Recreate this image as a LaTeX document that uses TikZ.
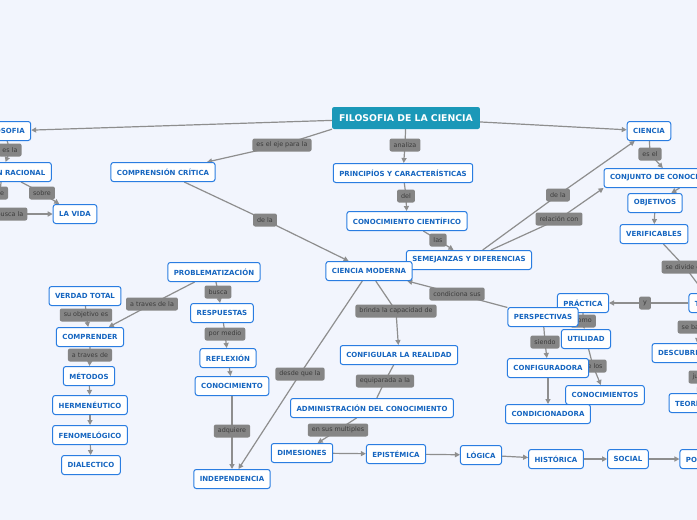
\documentclass[tikz,border=0pt]{standalone}
\usepackage{fontspec}
\setmainfont{DejaVu Sans}
\usetikzlibrary{arrows.meta}
\definecolor{bgc}{HTML}{F2F5FD}
\definecolor{bord}{HTML}{2A7DE1}
\definecolor{txt}{HTML}{1565C0}
\definecolor{root}{HTML}{1B98B8}
\definecolor{lab}{HTML}{858585}
\definecolor{labt}{HTML}{3C3C3C}
\definecolor{edg}{HTML}{8E8E8E}
\pgfdeclarelayer{bgfill}\pgfdeclarelayer{bg}\pgfdeclarelayer{labs}
\pgfsetlayers{bgfill,bg,labs,main}
\begin{document}
\begin{tikzpicture}[x=1pt,y=-1pt,
 box/.style={draw=bord,fill=white,rounded corners=2.5pt,line width=1pt,text=txt,font=\bfseries\fontsize{7}{8}\selectfont,inner xsep=6pt,minimum height=19pt},
 rootbox/.style={fill=root,rounded corners=2pt,text=white,font=\bfseries\fontsize{9.3}{10}\selectfont,inner xsep=7pt,minimum height=22pt},
 lbl/.style={fill=lab,rounded corners=2pt,text=labt,font=\fontsize{6.4}{7}\selectfont,inner xsep=4pt,minimum height=13pt},
 ed/.style={draw=edg,line width=1.2pt,-{Triangle[length=5pt,width=5pt]}},
 pl/.style={draw=edg,line width=1.2pt}]
\begin{pgfonlayer}{bgfill}
\fill[bgc] (0,0) rectangle (697,520);
\end{pgfonlayer}
\useasboundingbox (0,0) rectangle (697,520);
% nodes
\node[rootbox] (fdc) at (406,118) {FILOSOFIA DE LA CIENCIA};
\node[box] (fil) at (4,131) {FILOSOFIA};
\node[box] (rac) at (2,172) {REFLEXIÓN RACIONAL};
\node[box] (vida) at (75,214) {LA VIDA};
\node[box] (comp) at (163,172) {COMPRENSIÓN CRÍTICA};
\node[box] (prin) at (403,173) {PRINCIPÍOS Y CARACTERÍSTICAS};
\node[box] (cc) at (407,221) {CONOCIMIENTO CIENTÍFICO};
\node[box] (sem) at (469,260) {SEMEJANZAS Y DIFERENCIAS};
\node[box] (cm) at (369,271) {CIENCIA MODERNA};
\node[box] (cie) at (649,131) {CIENCIA};
\node[box] (conj) at (672,178) {CONJUNTO DE CONOCIMIENTOS};
\node[box] (obj) at (655,203) {OBJETIVOS};
\node[box] (ver) at (654,234) {VERIFICABLES};
\node[box] (teo) at (712,303) {TEÓRICA};
\node[box] (desc) at (696,353) {DESCUBRIMIENTOS};
\node[box] (teos) at (692,403) {TEORÍAS};
\node[box] (prac) at (583,303) {PRÁCTICA};
\node[box] (util) at (586,339) {UTILIDAD};
\node[box] (cons) at (605,395) {CONOCIMIENTOS};
\node[box] (pers) at (543,317) {PERSPECTIVAS};
\node[box] (conf) at (548,368) {CONFIGURADORA};
\node[box] (cond) at (548,414) {CONDICIONADORA};
\node[box] (prob) at (214,272) {PROBLEMATIZACIÓN};
\node[box] (verd) at (85,296) {VERDAD TOTAL};
\node[box] (compr) at (90,337) {COMPRENDER};
\node[box] (met) at (89,376) {MÉTODOS};
\node[box] (her) at (90,405) {HERMENÉUTICO};
\node[box] (fen) at (90,435) {FENOMELÓGICO};
\node[box] (dia) at (91,465) {DIALECTICO};
\node[box] (resp) at (222,313) {RESPUESTAS};
\node[box] (refl) at (228,358) {REFLEXIÓN};
\node[box] (cono) at (232,386) {CONOCIMIENTO};
\node[box] (ind) at (232,479) {INDEPENDENCIA};
\node[box] (real) at (399,355) {CONFIGULAR LA REALIDAD};
\node[box] (adm) at (372,408) {ADMINISTRACIÓN DEL CONOCIMIENTO};
\node[box] (dim) at (302,453) {DIMESIONES};
\node[box] (epi) at (396,454) {EPISTÉMICA};
\node[box] (log) at (481,455) {LÓGICA};
\node[box] (his) at (556,459) {HISTÓRICA};
\node[box] (soc) at (628,459) {SOCIAL};
\node[box] (pol) at (704,459) {POLÍTICA};
% labels
\begin{pgfonlayer}{labs}
\node[lbl] (l1) at (10,150) {es la};
\node[lbl] (l2) at (0,193) {de};
\node[lbl] (l3) at (42,193) {sobre};
\node[lbl] (l4) at (10,214) {busca la};
\node[lbl] (l5) at (282,145) {es el eje para la};
\node[lbl] (l6) at (405,145) {analiza};
\node[lbl] (l7) at (406,196) {del};
\node[lbl] (l8) at (438,240) {las};
\node[lbl] (l9) at (265,220) {de la};
\node[lbl] (l10) at (558,195) {de la};
\node[lbl] (l11) at (559,219) {relación con};
\node[lbl] (l12) at (650,154) {es el};
\node[lbl] (l13) at (685,267) {se divide en};
\node[lbl] (l14) at (645,303) {y};
\node[lbl] (l15) at (699,327) {se basa en};
\node[lbl] (l16) at (705,377) {justifica};
\node[lbl] (l17) at (457,294) {condiciona sus};
\node[lbl] (l18) at (396,311) {brinda la capacidad de};
\node[lbl] (l19) at (545,342) {siendo};
\node[lbl] (l20) at (583,321) {como};
\node[lbl] (l21) at (593,366) {de los};
\node[lbl] (l22) at (218,292) {busca};
\node[lbl] (l23) at (152,304) {a traves de la};
\node[lbl] (l24) at (86,315) {su objetivo es};
\node[lbl] (l25) at (90,355) {a traves de};
\node[lbl] (l26) at (225,334) {por medio};
\node[lbl] (l27) at (300,374) {desde que la};
\node[lbl] (l28) at (232,431) {adquiere};
\node[lbl] (l29) at (385,381) {equiparada a la};
\node[lbl] (l30) at (338,430) {en sus multiples};
\end{pgfonlayer}
% edges
\begin{pgfonlayer}{bg}
\draw[ed] (fdc) -- (fil);
\draw[ed] (fdc) -- (cie);
\draw[ed] (fdc.south west) -- (l5.center) -- (comp);
\draw[ed] (fdc) -- (l6.center) -- (prin);
\draw[ed] (fil) -- (l1.center) -- (rac);
\draw[pl] (rac) -- (l2.center);
\draw[ed] (rac) -- (l3.center) -- (vida);
\draw[ed] (l4.center) -- (vida);
\draw[ed] (prin) -- (l7.center) -- (cc);
\draw[ed] (cc) -- (l8.center) -- (sem);
\draw[ed] (comp) -- (l9.center) -- (cm);
\draw[ed] (sem) -- (l10.center) -- (cie);
\draw[ed] (sem) -- (l11.center) -- (conj.south west);
\draw[ed] (cie) -- (l12.center) -- (conj);
\draw[ed] (conj.south west) ++(76,0) -- (obj);
\draw[ed] (obj) -- (ver);
\draw[ed] (ver) -- (l13.center) -- (teo);
\draw[ed] (teo) -- (l14.center) -- (prac);
\draw[ed] (teo) -- (l15.center) -- (desc);
\draw[ed] (desc) -- (l16.center) -- (teos);
\draw[ed] (prac) -- (l20.center) -- (util);
\draw[ed] (util) -- (l21.center) -- (cons);
\draw[ed] (pers) -- (l17.center) -- (cm);
\draw[ed] (pers) -- (l19.center) -- (conf);
\draw[ed] (conf) -- (cond);
\draw[ed] (cm) -- (l18.center) -- (real);
\draw[pl] (real) -- (l29.center) -- (adm);
\draw[ed] (adm) -- (l30.center) -- (dim);
\draw[ed] (dim) -- (epi);
\draw[ed] (epi) -- (log);
\draw[ed] (log) -- (his);
\draw[ed] (his) -- (soc);
\draw[ed] (soc) -- (pol);
\draw[ed] (cm) -- (l27.center) -- (ind);
\draw[ed] (prob) -- (l22.center) -- (resp);
\draw[ed] (resp) -- (l26.center) -- (refl);
\draw[ed] (refl) -- (cono);
\draw[ed] (cono) -- (l28.center) -- (ind);
\draw[ed] (prob) -- (l23.center) -- (compr);
\draw[ed] (verd) -- (l24.center) -- (compr);
\draw[ed] (compr) -- (l25.center) -- (met);
\draw[ed] (met) -- (her);
\draw[ed] (her) -- (fen);
\draw[ed] (fen) -- (dia);
\end{pgfonlayer}
\end{tikzpicture}
\end{document}
